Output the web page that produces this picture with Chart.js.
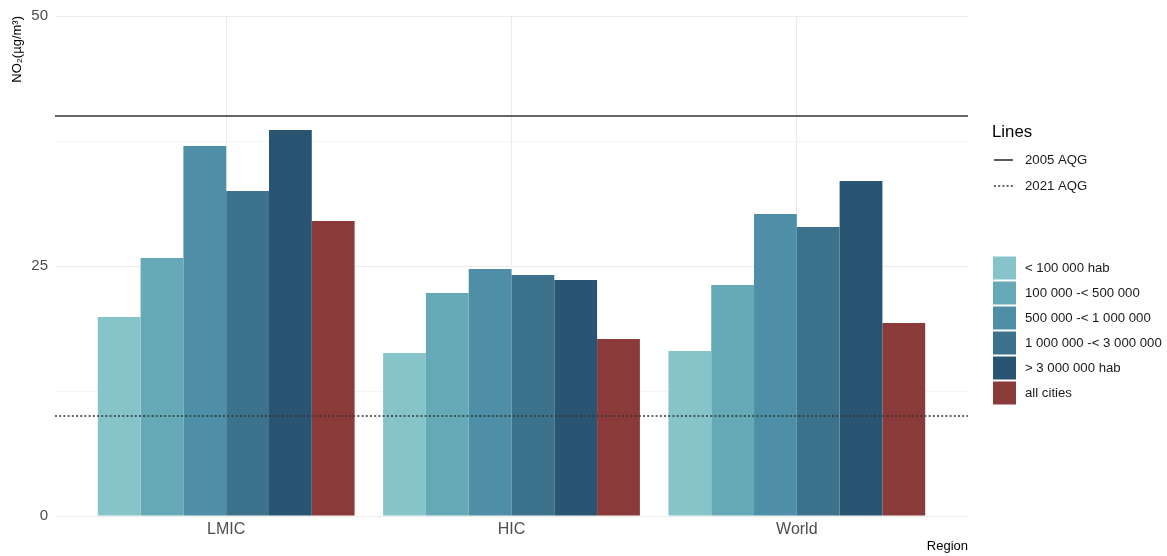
<!DOCTYPE html>
<html>
<head>
<meta charset="utf-8">
<script src="https://cdn.jsdelivr.net/npm/chart.js@4"></script>
<style>
  html, body { margin: 0; padding: 0; background: #ffffff; }
  #wrap { width: 1167px; height: 556px; }
</style>
</head>
<body>
<div id="wrap"><canvas id="c" width="1167" height="556"></canvas></div>
<script>
// Regions on the x axis
const regions = ['LMIC', 'HIC', 'World'];
// City size groups
const groups = ['< 100 000 hab', '100 000 -< 500 000', '500 000 -< 1 000 000',
                '1 000 000 -< 3 000 000', '> 3 000 000 hab', 'all cities'];
const groupColors = ['#86c4c9', '#65a9b6', '#4e8ea7', '#3c728b', '#2a5572', '#8b3a3a'];

// Mean NO2 (µg/m³) per group, in region order LMIC, HIC, World
const lt100k   = [19.9, 16.3, 16.5];
const k100_500 = [25.8, 22.3, 23.1];
const k500_1m  = [37.0, 24.7, 30.2];
const m1_3     = [32.5, 24.1, 28.9];
const gt3m     = [38.6, 23.6, 33.5];
const allCities = [29.5, 17.7, 19.3];
const groupValues = [lt100k, k100_500, k500_1m, m1_3, gt3m, allCities];

// Guideline levels
const lineLabels = ['2005 AQG', '2021 AQG'];
const lineLevels = [40, 10];

const yTicks = [0, 25, 50];
const FONT = '"Liberation Sans", Arial, sans-serif';

const barSets = groups.map((g, i) => ({
  type: 'bar',
  label: g,
  data: groupValues[i].map((v, j) => ({ x: j + 1, y: v })),
  backgroundColor: groupColors[i],
  borderWidth: 0,
  categoryPercentage: 0.9,
  barPercentage: 1.0,
  order: 2
}));

const lineSets = lineLabels.map((l, i) => ({
  type: 'line',
  label: l,
  data: [{ x: 0.4, y: lineLevels[i] }, { x: 3.6, y: lineLevels[i] }],
  borderColor: '#333333',
  borderWidth: 1.6,
  borderDash: i === 0 ? [] : [2, 2.2],
  pointRadius: 0,
  fill: false,
  order: 1
}));

// Two ggplot-style legends on the right
const sideLegend = {
  id: 'sideLegend',
  afterDraw(chart) {
    const ctx = chart.ctx;
    ctx.save();
    ctx.textBaseline = 'middle';
    ctx.textAlign = 'left';
    ctx.fillStyle = '#000000';
    ctx.font = '16.8px ' + FONT;
    ctx.fillText('Lines', 992, 132);
    ctx.font = '13.2px ' + FONT;
    lineSets.forEach((ds, i) => {
      const y = 160 + i * 26;
      ctx.strokeStyle = ds.borderColor;
      ctx.lineWidth = 1.6;
      ctx.setLineDash(ds.borderDash);
      ctx.beginPath();
      ctx.moveTo(994, y);
      ctx.lineTo(1013, y);
      ctx.stroke();
      ctx.setLineDash([]);
      ctx.fillStyle = '#1a1a1a';
      ctx.fillText(ds.label, 1025, y);
    });
    barSets.forEach((ds, i) => {
      const y = 268 + i * 25;
      ctx.fillStyle = ds.backgroundColor;
      ctx.fillRect(993, y - 11.5, 23, 23);
      ctx.fillStyle = '#1a1a1a';
      ctx.fillText(ds.label, 1025, y);
    });
    ctx.restore();
  }
};

new Chart(document.getElementById('c'), {
  data: { datasets: [...barSets, ...lineSets] },
  options: {
    responsive: false,
    animation: false,
    layout: { autoPadding: false, padding: { left: 0, right: 199, top: 14, bottom: 0 } },
    plugins: { legend: { display: false }, tooltip: { enabled: false } },
    scales: {
      x: {
        type: 'linear',
        offset: false,
        min: 0.4,
        max: 3.6,
        afterBuildTicks(scale) { scale.ticks = regions.map((r, i) => ({ value: i + 1 })); },
        afterFit(scale) { scale.height = 40; },
        border: { display: false },
        grid: { offset: false, color: '#ebebeb', lineWidth: 1, drawTicks: false },
        ticks: {
          padding: 4,
          color: '#4d4d4d',
          font: { size: 16, family: FONT },
          callback: (v) => regions[Math.round(v) - 1] || ''
        },
        title: {
          display: true,
          text: 'Region',
          align: 'end',
          color: '#000000',
          padding: { top: 0, bottom: 2 },
          font: { size: 13, family: FONT }
        }
      },
      y: {
        type: 'linear',
        min: 0,
        max: 50,
        afterBuildTicks(scale) { scale.ticks = [0, 12.5, 25, 37.5, 50].map(v => ({ value: v })); },
        afterFit(scale) { scale.width = 55; },
        border: { display: false },
        grid: {
          drawTicks: false,
          color: (c) => (yTicks.includes(c.tick.value) ? '#ebebeb' : '#f4f4f4'),
          lineWidth: 1
        },
        ticks: {
          padding: 7,
          color: '#4d4d4d',
          font: { size: 15, family: FONT },
          callback: (v) => (yTicks.includes(v) ? String(v) : '')
        },
        title: {
          display: true,
          text: 'NO₂(µg/m³)',
          align: 'end',
          color: '#000000',
          padding: { top: 10, bottom: 0 },
          font: { size: 13, family: FONT }
        }
      }
    }
  },
  plugins: [sideLegend]
});
</script>
</body>
</html>
